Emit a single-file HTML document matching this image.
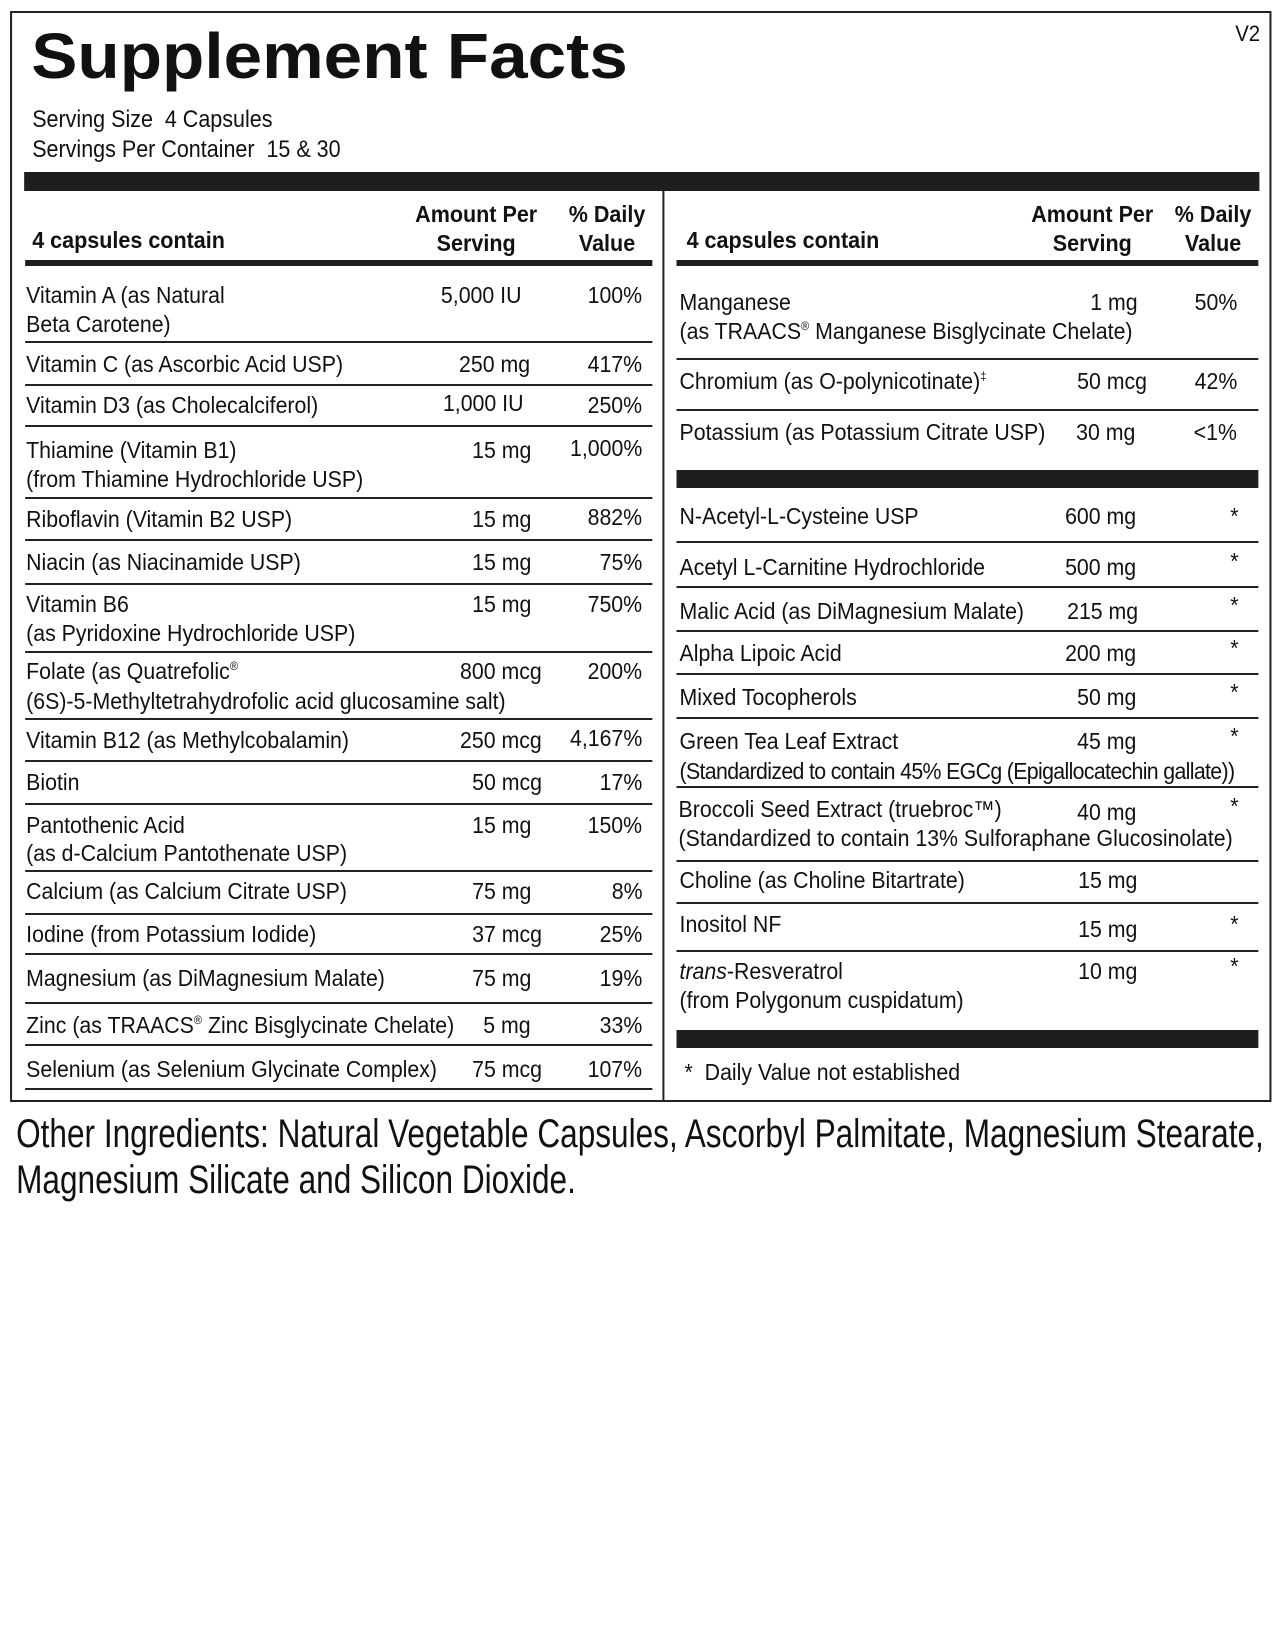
<!DOCTYPE html>
<html><head><meta charset="utf-8"><style>
body{margin:0;background:#fff;}
#w{position:relative;width:1275px;height:1650px;overflow:hidden;background:#fff;}
#p{position:absolute;left:0;top:0;width:1275px;height:1650px;transform:scaleX(1.0067);transform-origin:0 0;font-family:"Liberation Sans",sans-serif;color:#111;}
.t,.r,.c{position:absolute;font-size:23px;line-height:23px;white-space:nowrap;}
.t{transform:scaleX(.92);transform-origin:0 0;}
.r{transform:scaleX(.92);transform-origin:100% 0;text-align:right;}
.c{transform:translateX(-50%) scaleX(.93);text-align:center;font-weight:bold;}
.b{font-weight:bold;}
.l{position:absolute;height:2px;background:#222;}
.L{left:25px;width:623px;}
.R{left:672px;width:578px;}
.k{position:absolute;background:#1e1e1e;}
sup{font-size:12px;line-height:0;vertical-align:0;position:relative;top:-9px;}
</style></head><body><div id="w"><div id="p">
<div style="position:absolute;left:10px;top:11px;width:1249px;height:1087px;border:2px solid #222;"></div>
<div class="t b" style="left:31px;top:24px;font-size:64px;line-height:64px;transform:scaleX(1.075);">Supplement Facts</div>
<div class="t" style="left:1227px;top:22px;font-size:22px;">V2</div>
<div class="t" style="left:32px;top:108px;font-size:24px;transform:scaleX(.89);">Serving Size&nbsp; 4 Capsules</div>
<div class="t" style="left:32px;top:138px;font-size:24px;transform:scaleX(.89);">Servings Per Container&nbsp; 15 &amp; 30</div>
<div class="k" style="left:24px;top:172px;width:1227px;height:19px;"></div>
<div class="k" style="left:658px;top:191px;width:2px;height:909px;background:#222"></div>
<div class="k" style="left:25px;top:260px;width:623px;height:6px;"></div>
<div class="k" style="left:672px;top:260px;width:578px;height:6px;"></div>
<div class="t b" style="left:32px;top:229px;transform:scaleX(.93);">4 capsules contain</div>
<div class="c" style="left:473px;top:203px;">Amount Per</div>
<div class="c" style="left:473px;top:232px;">Serving</div>
<div class="c" style="left:603px;top:203px;">% Daily</div>
<div class="c" style="left:603px;top:232px;">Value</div>
<div class="t b" style="left:682px;top:229px;transform:scaleX(.93);">4 capsules contain</div>
<div class="c" style="left:1085px;top:203px;">Amount Per</div>
<div class="c" style="left:1085px;top:232px;">Serving</div>
<div class="c" style="left:1205px;top:203px;">% Daily</div>
<div class="c" style="left:1205px;top:232px;">Value</div>

<!-- left rows -->
<div class="t" style="left:26px;top:284px;">Vitamin A (as Natural</div>
<div class="t" style="left:26px;top:313px;">Beta Carotene)</div>
<div class="t" style="left:438px;top:284px;">5,000 IU</div>
<div class="r" style="right:637px;top:284px;">100%</div>
<div class="l L" style="top:341px;"></div>
<div class="t" style="left:26px;top:353px;">Vitamin C (as Ascorbic Acid USP)</div>
<div class="t" style="left:456px;top:353px;">250 mg</div>
<div class="r" style="right:637px;top:353px;">417%</div>
<div class="l L" style="top:384px;"></div>
<div class="t" style="left:26px;top:394px;">Vitamin D3 (as Cholecalciferol)</div>
<div class="t" style="left:440px;top:392px;">1,000 IU</div>
<div class="r" style="right:637px;top:394px;">250%</div>
<div class="l L" style="top:425px;"></div>
<div class="t" style="left:26px;top:439px;">Thiamine (Vitamin B1)</div>
<div class="t" style="left:26px;top:468px;">(from Thiamine Hydrochloride USP)</div>
<div class="t" style="left:469px;top:439px;">15 mg</div>
<div class="r" style="right:637px;top:437px;">1,000%</div>
<div class="l L" style="top:497px;"></div>
<div class="t" style="left:26px;top:508px;">Riboflavin (Vitamin B2 USP)</div>
<div class="t" style="left:469px;top:508px;">15 mg</div>
<div class="r" style="right:637px;top:506px;">882%</div>
<div class="l L" style="top:539px;"></div>
<div class="t" style="left:26px;top:551px;">Niacin (as Niacinamide USP)</div>
<div class="t" style="left:469px;top:551px;">15 mg</div>
<div class="r" style="right:637px;top:551px;">75%</div>
<div class="l L" style="top:583px;"></div>
<div class="t" style="left:26px;top:593px;">Vitamin B6</div>
<div class="t" style="left:26px;top:622px;">(as Pyridoxine Hydrochloride USP)</div>
<div class="t" style="left:469px;top:593px;">15 mg</div>
<div class="r" style="right:637px;top:593px;">750%</div>
<div class="l L" style="top:651px;"></div>
<div class="t" style="left:26px;top:660px;">Folate (as Quatrefolic<sup>®</sup></div>
<div class="t" style="left:26px;top:690px;">(6S)-5-Methyltetrahydrofolic acid glucosamine salt)</div>
<div class="t" style="left:457px;top:660px;">800 mcg</div>
<div class="r" style="right:637px;top:660px;">200%</div>
<div class="l L" style="top:718px;"></div>
<div class="t" style="left:26px;top:729px;">Vitamin B12 (as Methylcobalamin)</div>
<div class="t" style="left:457px;top:729px;">250 mcg</div>
<div class="r" style="right:637px;top:727px;">4,167%</div>
<div class="l L" style="top:760px;"></div>
<div class="t" style="left:26px;top:771px;">Biotin</div>
<div class="t" style="left:469px;top:771px;">50 mcg</div>
<div class="r" style="right:637px;top:771px;">17%</div>
<div class="l L" style="top:803px;"></div>
<div class="t" style="left:26px;top:814px;">Pantothenic Acid</div>
<div class="t" style="left:26px;top:842px;">(as d-Calcium Pantothenate USP)</div>
<div class="t" style="left:469px;top:814px;">15 mg</div>
<div class="r" style="right:637px;top:814px;">150%</div>
<div class="l L" style="top:870px;"></div>
<div class="t" style="left:26px;top:880px;">Calcium (as Calcium Citrate USP)</div>
<div class="t" style="left:469px;top:880px;">75 mg</div>
<div class="r" style="right:637px;top:880px;">8%</div>
<div class="l L" style="top:913px;"></div>
<div class="t" style="left:26px;top:923px;">Iodine (from Potassium Iodide)</div>
<div class="t" style="left:469px;top:923px;">37 mcg</div>
<div class="r" style="right:637px;top:923px;">25%</div>
<div class="l L" style="top:953px;"></div>
<div class="t" style="left:26px;top:967px;">Magnesium (as DiMagnesium Malate)</div>
<div class="t" style="left:469px;top:967px;">75 mg</div>
<div class="r" style="right:637px;top:967px;">19%</div>
<div class="l L" style="top:1002px;"></div>
<div class="t" style="left:26px;top:1014px;">Zinc (as TRAACS<sup>®</sup> Zinc Bisglycinate Chelate)</div>
<div class="t" style="left:480px;top:1014px;">5 mg</div>
<div class="r" style="right:637px;top:1014px;">33%</div>
<div class="l L" style="top:1044px;"></div>
<div class="t" style="left:26px;top:1058px;">Selenium (as Selenium Glycinate Complex)</div>
<div class="t" style="left:469px;top:1058px;">75 mcg</div>
<div class="r" style="right:637px;top:1058px;">107%</div>
<div class="l L" style="top:1088px;"></div>

<!-- right rows -->
<div class="t" style="left:675px;top:291px;">Manganese</div>
<div class="t" style="left:675px;top:320px;">(as TRAACS<sup>®</sup> Manganese Bisglycinate Chelate)</div>
<div class="t" style="left:1083px;top:291px;">1 mg</div>
<div class="r" style="right:46px;top:291px;">50%</div>
<div class="l R" style="top:358px;"></div>
<div class="t" style="left:675px;top:370px;">Chromium (as O-polynicotinate)<sup>‡</sup></div>
<div class="t" style="left:1070px;top:370px;">50 mcg</div>
<div class="r" style="right:46px;top:370px;">42%</div>
<div class="l R" style="top:409px;"></div>
<div class="t" style="left:675px;top:421px;">Potassium (as Potassium Citrate USP)</div>
<div class="t" style="left:1069px;top:421px;">30 mg</div>
<div class="r" style="right:46px;top:421px;">&lt;1%</div>
<div class="k" style="left:672px;top:470px;width:578px;height:18px;"></div>
<div class="t" style="left:675px;top:505px;">N-Acetyl-L-Cysteine USP</div>
<div class="t" style="left:1058px;top:505px;">600 mg</div>
<div class="t" style="left:1222px;top:505px;">*</div>
<div class="l R" style="top:541px;"></div>
<div class="t" style="left:675px;top:556px;">Acetyl L-Carnitine Hydrochloride</div>
<div class="t" style="left:1058px;top:556px;">500 mg</div>
<div class="t" style="left:1222px;top:550px;">*</div>
<div class="l R" style="top:586px;"></div>
<div class="t" style="left:675px;top:600px;">Malic Acid (as DiMagnesium Malate)</div>
<div class="t" style="left:1060px;top:600px;">215 mg</div>
<div class="t" style="left:1222px;top:594px;">*</div>
<div class="l R" style="top:630px;"></div>
<div class="t" style="left:675px;top:642px;">Alpha Lipoic Acid</div>
<div class="t" style="left:1058px;top:642px;">200 mg</div>
<div class="t" style="left:1222px;top:637px;">*</div>
<div class="l R" style="top:673px;"></div>
<div class="t" style="left:675px;top:686px;">Mixed Tocopherols</div>
<div class="t" style="left:1070px;top:686px;">50 mg</div>
<div class="t" style="left:1222px;top:681px;">*</div>
<div class="l R" style="top:717px;"></div>
<div class="t" style="left:675px;top:730px;">Green Tea Leaf Extract</div>
<div class="t" style="left:675px;top:760px;letter-spacing:-0.7px;">(Standardized to contain 45% EGCg (Epigallocatechin gallate))</div>
<div class="t" style="left:1070px;top:730px;">45 mg</div>
<div class="t" style="left:1222px;top:725px;">*</div>
<div class="l R" style="top:786px;"></div>
<div class="t" style="left:674px;top:798px;">Broccoli Seed Extract (truebroc™)</div>
<div class="t" style="left:674px;top:827px;">(Standardized to contain 13% Sulforaphane Glucosinolate)</div>
<div class="t" style="left:1070px;top:801px;">40 mg</div>
<div class="t" style="left:1222px;top:795px;">*</div>
<div class="l R" style="top:860px;"></div>
<div class="t" style="left:675px;top:869px;">Choline (as Choline Bitartrate)</div>
<div class="t" style="left:1071px;top:869px;">15 mg</div>
<div class="l R" style="top:902px;"></div>
<div class="t" style="left:675px;top:913px;">Inositol NF</div>
<div class="t" style="left:1071px;top:918px;">15 mg</div>
<div class="t" style="left:1222px;top:913px;">*</div>
<div class="l R" style="top:950px;"></div>
<div class="t" style="left:675px;top:960px;"><i>trans</i>-Resveratrol</div>
<div class="t" style="left:675px;top:989px;">(from Polygonum cuspidatum)</div>
<div class="t" style="left:1071px;top:960px;">10 mg</div>
<div class="t" style="left:1222px;top:955px;">*</div>
<div class="k" style="left:672px;top:1030px;width:578px;height:18px;"></div>
<div class="t" style="left:680px;top:1061px;">*&nbsp; Daily Value not established</div>

<div class="t" style="left:16px;top:1114px;font-size:40px;line-height:40px;transform:scaleX(.784);">Other Ingredients: Natural Vegetable Capsules, Ascorbyl Palmitate, Magnesium Stearate,</div>
<div class="t" style="left:16px;top:1160px;font-size:40px;line-height:40px;transform:scaleX(.784);">Magnesium Silicate and Silicon Dioxide.</div>
</div></div></body></html>
